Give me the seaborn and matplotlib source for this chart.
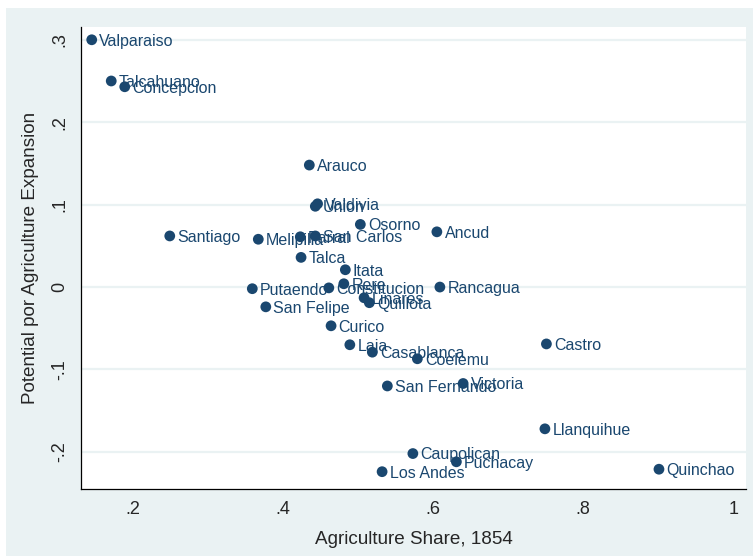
import numpy as np
import pandas as pd
import matplotlib
matplotlib.use("Agg")
import matplotlib.pyplot as plt
import seaborn as sns
from matplotlib.patches import Rectangle

# data
departments = [
    "Valparaiso", "Talcahuano", "Concepcion", "Arauco", "Valdivia", "Union",
    "Osorno", "Ancud", "Santiago", "Melipilla", "Parral", "San Carlos",
    "Talca", "Itata", "Rere", "Putaendo", "Constitucion", "Rancagua",
    "Linares", "Quillota", "San Felipe", "Curico", "Laja", "Casablanca",
    "Coelemu", "San Fernando", "Victoria", "Castro", "Llanquihue",
    "Caupolican", "Puchacay", "Los Andes", "Quinchao",
]
agri_share = [
    0.145, 0.171, 0.189, 0.435, 0.446, 0.443,
    0.503, 0.605, 0.249, 0.367, 0.423, 0.443,
    0.424, 0.483, 0.481, 0.359, 0.461, 0.609,
    0.508, 0.515, 0.377, 0.464, 0.489, 0.519,
    0.579, 0.539, 0.640, 0.751, 0.749,
    0.573, 0.631, 0.532, 0.901,
]
potential = [
    0.300, 0.250, 0.243, 0.148, 0.101, 0.098,
    0.076, 0.067, 0.062, 0.058, 0.061, 0.062,
    0.036, 0.021, 0.004, -0.002, -0.001, 0.000,
    -0.013, -0.019, -0.024, -0.047, -0.070, -0.079,
    -0.087, -0.120, -0.117, -0.069, -0.172,
    -0.202, -0.212, -0.224, -0.221,
]
xticks = [0.2, 0.4, 0.6, 0.8, 1.0]
xticklabels = [".2", ".4", ".6", ".8", "1"]
yticks = [-0.2, -0.1, 0.0, 0.1, 0.2, 0.3]
yticklabels = ["-.2", "-.1", "0", ".1", ".2", ".3"]

df = pd.DataFrame({"dept": departments, "share": agri_share, "pot": potential})

navy = "#1a476f"
bluegray = "#eaf2f3"

sns.set_style("white")
plt.rcParams["font.family"] = ["Liberation Sans", "DejaVu Sans"]

fig = plt.figure(figsize=(7.53, 5.56), dpi=100)
fig.patch.set_facecolor("white")
fig.patches.append(Rectangle((6 / 753, 0), 1, (556 - 8) / 556, transform=fig.transFigure,
                             facecolor=bluegray, edgecolor="none", zorder=-10))
ax = fig.add_axes([81 / 753, 67 / 556, 665 / 753, 462 / 556])
ax.set_facecolor("white")

sns.scatterplot(data=df, x="share", y="pot", ax=ax, color=navy, s=60,
                edgecolor="none", zorder=3, legend=False)
for _, r in df.iterrows():
    ax.annotate(r["dept"], (r["share"], r["pot"]), xytext=(5.5, -1),
                textcoords="offset points", ha="left", va="center",
                fontsize=11.5, color=navy, zorder=4)

ax.set_xlim(0.1307, 1.017)
ax.set_ylim(-0.245, 0.3155)
ax.set_xticks(xticks)
ax.set_xticklabels(xticklabels)
ax.set_yticks(yticks)
ax.set_yticklabels(yticklabels, rotation=90, va="center")
ax.tick_params(axis="both", direction="out", length=5, width=0.8, color="black",
               labelsize=13, pad=4)
for y in yticks:
    ax.axhline(y, color=bluegray, lw=1.6, zorder=1)

for s in ["top", "right"]:
    ax.spines[s].set_visible(False)
for s in ["left", "bottom"]:
    ax.spines[s].set_color("black")
    ax.spines[s].set_linewidth(0.9)

ax.set_xlabel("Agriculture Share, 1854", fontsize=13.6, labelpad=9)
ax.set_ylabel("Potential por Agriculture Expansion", fontsize=13.6, labelpad=9)

fig.savefig("out.png", dpi=100, facecolor=fig.get_facecolor())
